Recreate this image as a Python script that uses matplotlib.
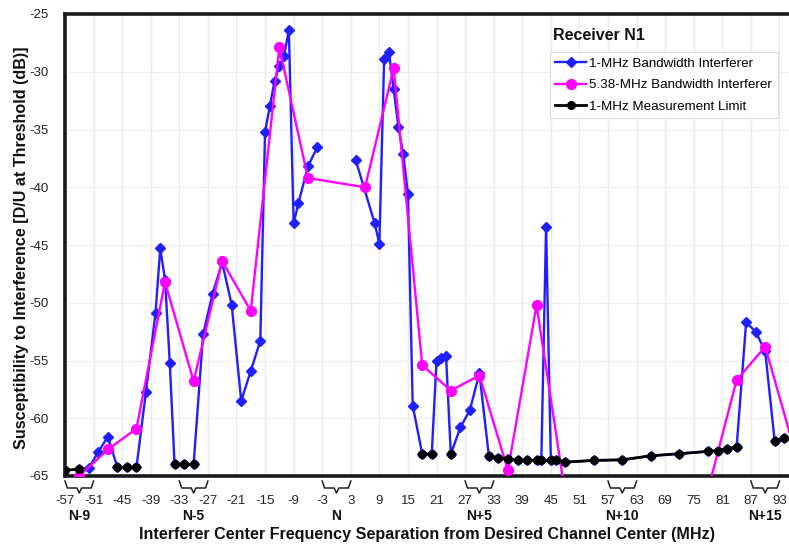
import numpy as np
import matplotlib
matplotlib.use("Agg")
import matplotlib.pyplot as plt
from matplotlib.lines import Line2D

nan = np.nan

# 1-MHz Bandwidth Interferer
blue_x = [-54, -52, -50, -48, -46, -44, -42, -40, -38, -37, -36, -35, -34, -32, -30,
          -28, -26, -24, -22, -20, -18, -16, -15, -14, -13, -12, -11, -10, -9, -8, -6, -4,
          0, 4, 8, 9, 10, 11, 12, 13, 14, 15, 16, 18, 20, 21, 22, 23, 24, 26, 28, 30,
          32, 34, 36, 38, 40, 42, 43, 44, 45, 46, 48, 54, 60, 66, 72, 78, 80, 82, 84,
          86, 88, 90, 92, 94]
blue_y = [-64.4, -64.3, -62.9, -61.6, -64.25, -64.25, -64.25, -57.7, -50.9, -45.3, -48.0, -55.2,
          -64.0, -64.0, -64.0, -52.7, -49.2, -46.5, -50.2, -58.5, -55.9, -53.3, -35.2, -33.0,
          -30.8, -29.5, -28.6, -26.4, -43.1, -41.4, -38.2, -36.5,
          nan, -37.6, -43.1, -44.9, -28.9, -28.3, -31.5, -34.8, -37.1, -40.6, -58.9, -63.1,
          -63.1, -55.0, -54.8, -54.6, -63.1, -60.8, -59.3, -56.1,
          -63.3, -63.45, -63.5, -63.65, -63.65, -63.65, -63.65, -43.4, -63.65, -63.65, -63.8,
          -63.65, -63.6, -63.25, -63.07, -62.87, -62.8, -62.64, -62.5,
          -51.7, -52.5, -54.2, -62.0, -61.7]

# 5.38-MHz Bandwidth Interferer
pink_x = [-60, -54, -48, -42, -36, -30, -24, -18, -12, -6, 6, 12, 18, 24, 30, 36, 42, 48,
          78, 84, 90, 96]
pink_y = [-65.8, -65.0, -62.7, -60.9, -48.2, -56.8, -46.4, -50.7, -27.9, -39.2, -40.0,
          -29.7, -55.4, -57.6, -56.3, -64.5, -50.2, -66.5, -66.2, -56.7, -53.8, -62.5]

# 1-MHz Measurement Limit
limit_x = [-57, -54, -50, -46, -44, -42, -38, -34, -32, -30, 0, 18, 20, 21, 24, 26,
           32, 34, 36, 38, 40, 42, 43, 45, 46, 48, 54, 60, 66, 72, 78, 80, 82, 84, 88, 92, 94]
limit_y = [-64.5, -64.4, nan, -64.25, -64.25, -64.25, nan, -64.0, -64.0, -64.0, nan, -63.1,
           -63.1, nan, -63.1, nan,
           -63.3, -63.45, -63.5, -63.65, -63.65, -63.65, -63.65, -63.65, -63.65, -63.8, -63.65,
           -63.6, -63.25, -63.07, -62.87, -62.8, -62.64, -62.5, nan, -62.0, -61.7]

xticks = list(range(-57, 94, 6))
yticks = list(range(-65, -24, 5))
channels = ["N-9", "N-5", "N", "N+5", "N+10", "N+15"]
channel_centers = [-54, -30, 0, 30, 60, 90]

plt.rcParams['font.family'] = ['Liberation Sans', 'DejaVu Sans']

W, H = 789, 544
fig = plt.figure(figsize=(W / 100, H / 100), dpi=100)
ax_left, ax_right, ax_top, ax_bot = 65, 789, 14, 476
ax = fig.add_axes([ax_left / W, 1 - ax_bot / H, (ax_right - ax_left) / W, (ax_bot - ax_top) / H])

ax.set_xlim(-57, 95.0)
ax.set_ylim(-65, -25)

for x in xticks[1:]:
    ax.axvline(x, color='#ebebeb', lw=1.0, zorder=0)
for y in yticks[1:-1]:
    ax.axhline(y, color='#f0f0f0', lw=1.0, zorder=0)

ax.plot(blue_x, blue_y, color='#1f1fff', lw=1.7, marker='D', ms=5.5, mfc='#1f1fff',
        mec='#1f1fff', zorder=3)
ax.plot(pink_x, pink_y, color='#ff00ff', lw=1.7, marker='o', ms=7, mfc='#ff00ff',
        mec='#ff00ff', zorder=4)
ax.plot(limit_x, limit_y, color='black', lw=2.0, marker='o', ms=5.5, mfc='black',
        mec='black', zorder=5)

ax.set_xticks(xticks)
ax.set_xticklabels([str(v) for v in xticks])
ax.set_yticks(yticks)
ax.set_yticklabels([str(v) for v in yticks])
ax.tick_params(axis='both', length=0, labelsize=9.5, colors='#222222')
ax.tick_params(axis='x', pad=14)
ax.tick_params(axis='y', pad=12)

for s in ['left', 'bottom', 'top']:
    ax.spines[s].set_linewidth(2.6)
    ax.spines[s].set_color('#1a1a1a')
ax.spines['right'].set_visible(False)

# braces under channel pairs
tr = ax.get_xaxis_transform()
ph = ax_bot - ax_top
def fy(px):
    return -(px) / ph
for name, c in zip(channels, channel_centers):
    x1, x2 = c - 3, c + 3
    pts_x = [x1, x1 + 0.5, c - 0.5, c, c + 0.5, x2 - 0.5, x2]
    pts_y = [fy(5), fy(12), fy(12), fy(17), fy(12), fy(12), fy(5)]
    ax.add_line(Line2D(pts_x, pts_y, transform=tr, color='#222222', lw=1.1, clip_on=False))
    ax.text(c, fy(40), name, transform=tr, ha='center', va='center', fontsize=10,
            fontweight='bold', color='#111111')

fig.text(0.5 * (ax_left + ax_right) / W, 1 - 534 / H,
         "Interferer Center Frequency Separation from Desired Channel Center (MHz)",
         ha='center', va='center', fontsize=11.6, fontweight='bold', color='#111111')
fig.text(22 / W, 1 - 248 / H, "Susceptibility to Interference [D/U at Threshold (dB)]",
         rotation=90, ha='center', va='center', fontsize=11.6, fontweight='bold',
         color='#111111')

handles = [
    Line2D([], [], color='#1f1fff', lw=1.7, marker='D', ms=5.5),
    Line2D([], [], color='#ff00ff', lw=1.7, marker='o', ms=7),
    Line2D([], [], color='black', lw=2.0, marker='o', ms=5.5),
]
labels = ["1-MHz Bandwidth Interferer", "5.38-MHz Bandwidth Interferer",
          "1-MHz Measurement Limit"]
leg = fig.legend(handles, labels, loc='upper left',
                 bbox_to_anchor=(550 / W, 1 - 52 / H), fontsize=9.6,
                 frameon=True, fancybox=False, edgecolor='#dddddd', framealpha=1,
                 handlelength=2.3, handletextpad=0.25, labelspacing=0.7,
                 borderpad=0.4, borderaxespad=0)
leg.get_frame().set_linewidth(0.8)
fig.text(553 / W, 1 - 36 / H, "Receiver N1", ha='left', va='center', fontsize=11.5,
         fontweight='bold', color='#111111')

fig.savefig("out.png", dpi=100)
